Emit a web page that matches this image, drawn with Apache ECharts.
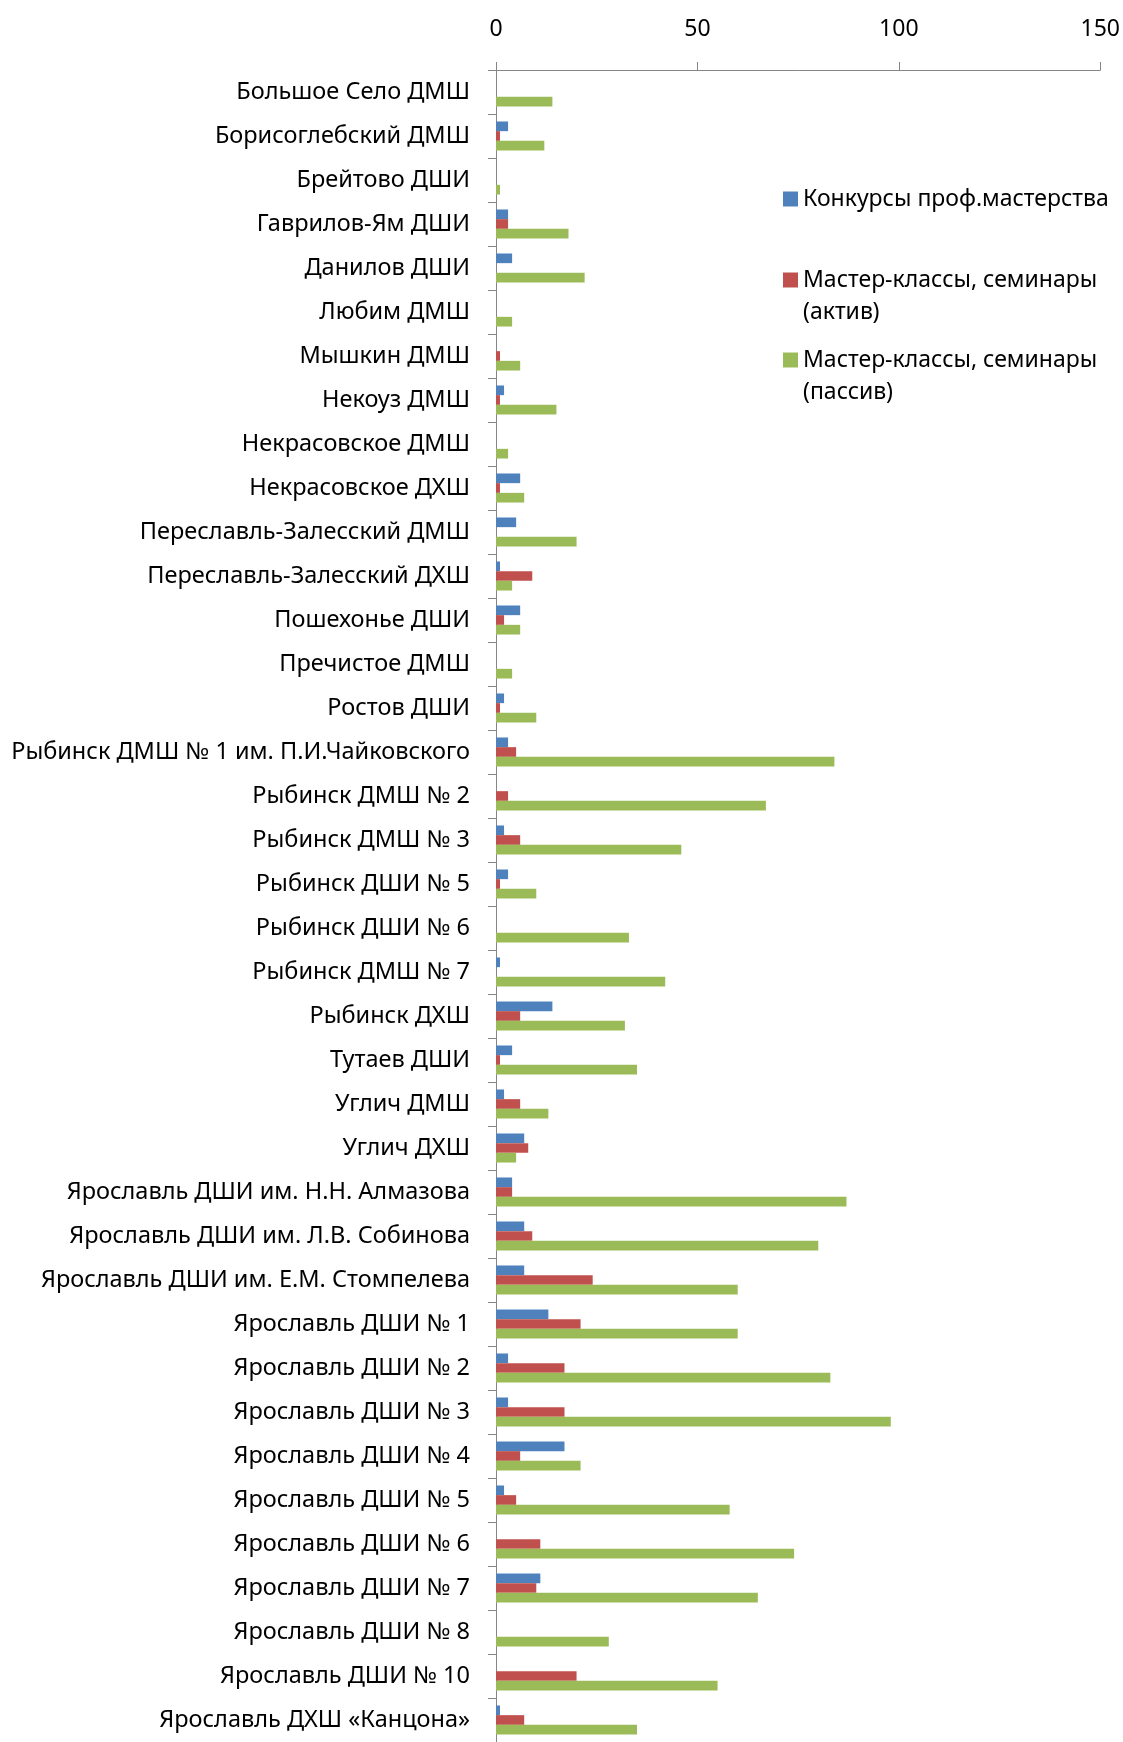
<!DOCTYPE html>
<html>
<head>
<meta charset="utf-8">
<script src="https://cdn.jsdelivr.net/npm/echarts@6/dist/echarts.min.js"></script>
<style>
  html, body { margin: 0; padding: 0; background: #fff; }
  #myChart { width: 1123px; height: 1742px; }
</style>
</head>
<body>
<div id="myChart"></div>
<script>
const categories = [
  'Большое Село ДМШ', 'Борисоглебский ДМШ', 'Брейтово ДШИ', 'Гаврилов-Ям ДШИ',
  'Данилов ДШИ', 'Любим ДМШ', 'Мышкин ДМШ', 'Некоуз ДМШ', 'Некрасовское ДМШ',
  'Некрасовское ДХШ', 'Переславль-Залесский ДМШ', 'Переславль-Залесский ДХШ',
  'Пошехонье ДШИ', 'Пречистое ДМШ', 'Ростов ДШИ',
  'Рыбинск ДМШ № 1 им. П.И.Чайковского', 'Рыбинск ДМШ № 2', 'Рыбинск ДМШ № 3',
  'Рыбинск ДШИ № 5', 'Рыбинск ДШИ № 6', 'Рыбинск ДМШ № 7', 'Рыбинск ДХШ',
  'Тутаев ДШИ', 'Углич ДМШ', 'Углич ДХШ',
  'Ярославль ДШИ им. Н.Н. Алмазова', 'Ярославль ДШИ им. Л.В. Собинова',
  'Ярославль ДШИ им. Е.М. Стомпелева', 'Ярославль ДШИ № 1', 'Ярославль ДШИ № 2',
  'Ярославль ДШИ № 3', 'Ярославль ДШИ № 4', 'Ярославль ДШИ № 5', 'Ярославль ДШИ № 6',
  'Ярославль ДШИ № 7', 'Ярославль ДШИ № 8', 'Ярославль ДШИ № 10',
  'Ярославль ДХШ «Канцона»'
]
const seriesNames = [
  'Конкурсы проф.мастерства',
  'Мастер-классы, семинары (актив)',
  'Мастер-классы, семинары (пассив)'
]
const contests = [0, 3, 0, 3, 4, 0, 0, 2, 0, 6, 5, 1, 6, 0, 2, 3, 0, 2, 3, 0, 1, 14, 4, 2, 7,
  4, 7, 7, 13, 3, 3, 17, 2, 0, 11, 0, 0, 1]
const active = [0, 1, 0, 3, 0, 0, 1, 1, 0, 1, 0, 9, 2, 0, 1, 5, 3, 6, 1, 0, 0, 6, 1, 6, 8,
  4, 9, 24, 21, 17, 17, 6, 5, 11, 10, 0, 20, 7]
const passive = [14, 12, 1, 18, 22, 4, 6, 15, 3, 7, 20, 4, 6, 4, 10, 84, 67, 46, 10, 33, 42, 32, 35, 13, 5,
  87, 80, 60, 60, 83, 98, 21, 58, 74, 65, 28, 55, 35]
const xTicks = [0, 50, 100, 150]

const colors = ['#4F81BD', '#C0504D', '#9BBB59']
const font = 'Noto Sans'
const axisGray = '#868686'

function legendFor (idx, top) {
  // long names wrap before the bracket; an empty line on top keeps
  // the marker level with the first line of text
  const parts = seriesNames[idx].split(' (')
  const twoLines = parts.length > 1
  return {
    orient: 'vertical',
    left: 783,
    top: top,
    padding: 0,
    itemWidth: 15,
    itemHeight: 15,
    icon: 'rect',
    selectedMode: false,
    data: [seriesNames[idx]],
    formatter: function () {
      return twoLines ? ' \n' + parts[0] + '\n(' + parts[1] : parts[0]
    },
    textStyle: {
      fontFamily: font,
      fontSize: 23,
      color: '#000',
      lineHeight: 32
    }
  }
}

let myChart = echarts.init(document.getElementById('myChart'))
myChart.setOption({
  animation: false,
  color: colors,
  textStyle: { fontFamily: font },
  legend: [
    legendFor(0, 183),
    legendFor(1, 232),
    legendFor(2, 312)
  ],
  grid: {
    left: 496,
    top: 70,
    width: 605,
    height: 1680,
    containLabel: false
  },
  xAxis: {
    type: 'value',
    position: 'top',
    min: xTicks[0],
    max: xTicks[xTicks.length - 1],
    interval: xTicks[1] - xTicks[0],
    axisLine: { show: true, lineStyle: { color: axisGray, width: 1 } },
    axisTick: { show: true, length: 8, lineStyle: { color: axisGray } },
    splitLine: { show: false },
    axisLabel: { fontSize: 23, color: '#000', margin: 29, fontFamily: font }
  },
  yAxis: {
    type: 'category',
    inverse: true,
    data: categories,
    axisLine: { show: true, lineStyle: { color: axisGray, width: 1 } },
    axisTick: { show: true, length: 8, lineStyle: { color: axisGray } },
    axisLabel: { fontSize: 23.5, color: '#000', margin: 26, fontFamily: font }
  },
  series: [{
    name: seriesNames[0],
    type: 'bar',
    barGap: '0%',
    barCategoryGap: '34%',
    data: contests
  }, {
    name: seriesNames[1],
    type: 'bar',
    barGap: '0%',
    barCategoryGap: '34%',
    data: active
  }, {
    name: seriesNames[2],
    type: 'bar',
    barGap: '0%',
    barCategoryGap: '34%',
    data: passive
  }]
})
</script>
</body>
</html>
